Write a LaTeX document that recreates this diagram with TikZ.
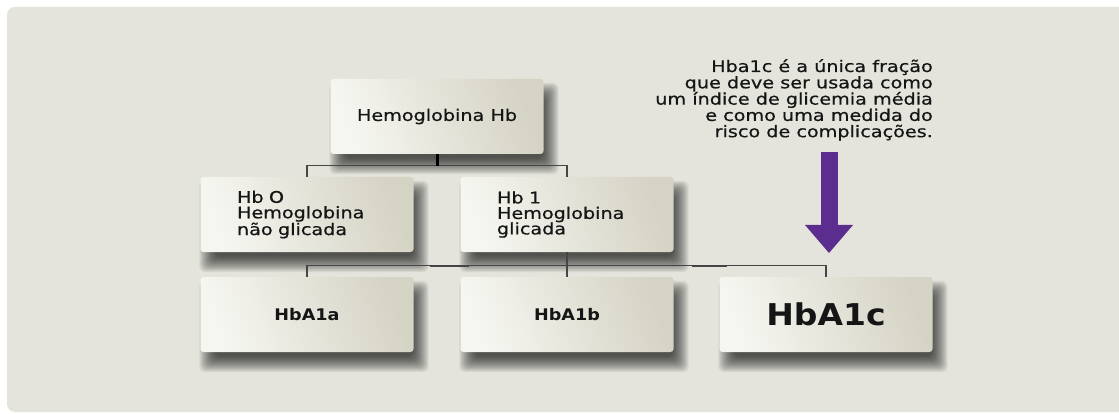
\documentclass[tikz,border=0pt]{standalone}
\usepackage{fontspec}
\setmainfont{DejaVu Sans}
\newfontfamily\boxfont[FakeStretch=1.2,FakeBold=0.6]{DejaVu Sans}
\newfontfamily\labfont[FakeStretch=1.1]{DejaVu Sans}
\usetikzlibrary{arrows.meta,calc}
\definecolor{panel}{HTML}{E4E4DC}
\definecolor{boxL}{HTML}{F6F6F1}
\definecolor{boxR}{HTML}{D5D3C4}
\definecolor{linec}{HTML}{454545}
\definecolor{purp}{HTML}{5B2D8E}
\definecolor{textc}{HTML}{151515}
\pgfdeclarelayer{panellayer}
\pgfdeclarelayer{shadowlayer}
\pgfsetlayers{panellayer,shadowlayer,main}
\newcommand{\myshadow}[1]{%
  \begin{pgfonlayer}{shadowlayer}
  \foreach \k in {-8,...,8} {
    \fill[black, opacity=0.055, rounded corners=6pt]
      ($(#1.north west)+(7-\k,12-\k)$) rectangle ($(#1.south east)+(7+\k,12+\k)$);
  }
  \end{pgfonlayer}}
\begin{document}
\begin{tikzpicture}[x=1pt,y=-1pt,
  box/.style={rounded corners=3pt, minimum width=213pt, minimum height=75pt,
    inner sep=0pt, left color=boxL, right color=boxR, shading angle=110,
    text=textc},
  boxtxt/.style={font={\boxfont\fontsize{16pt}{15.5pt}\selectfont}},
  smalllab/.style={font={\labfont\bfseries\fontsize{16pt}{18pt}\selectfont}},
  biglab/.style={font={\labfont\bfseries\fontsize{30pt}{32pt}\selectfont}},
  note/.style={align=right, inner sep=0pt, text=textc, font={\boxfont\fontsize{16pt}{16.3pt}\selectfont}},
  conn/.style={draw=linec, line width=1.3pt},
  stub/.style={draw=black, line width=3pt},
  seg/.style={draw=linec, line width=2.2pt},
  bigarrow/.style={draw=purp, line width=17pt, -{Triangle[length=28pt, width=48pt, line width=0pt]}}]
\useasboundingbox (0,0) rectangle (1119,414);
\clip (0,0) rectangle (1119,414);
\begin{pgfonlayer}{panellayer}
\fill[white] (0,0) rectangle (1119,414);
\fill[panel, rounded corners=8pt] (7,7) rectangle (1135,412);
\end{pgfonlayer}

\node[box, boxtxt] (hb) at (437,116.5) {Hemoglobina Hb};
\node[box, boxtxt, align=left, text width=140pt] (hb0) at (307,214.5) {Hb O\\Hemoglobina\\não glicada};
\node[box, boxtxt, align=left, text width=140pt] (hb1) at (567,214.5) {Hb 1\\Hemoglobina\\glicada};
\node[box, smalllab] (a1a) at (307,314.5) {\raisebox{-3pt}{HbA1a}};
\node[box, smalllab] (a1b) at (567,314.5) {\raisebox{-3pt}{HbA1b}};
\node[box, biglab] (a1c) at (826,314.5) {\raisebox{-2pt}{HbA1c}};
\myshadow{hb}\myshadow{hb0}\myshadow{hb1}\myshadow{a1a}\myshadow{a1b}\myshadow{a1c}

\draw[conn] (hb0.north) -- ++(0,-11) -| (hb1.north);
\draw[stub] (hb.south) -- ++(0,12);
\draw[conn] (a1a.north) -- ++(0,-11) -| (a1c.north);
\draw[conn] (hb1.south) -- (a1b.north);
\coordinate (s1a) at (430,266); \coordinate (s1b) at (469,266);
\coordinate (s2a) at (692,266); \coordinate (s2b) at (727,266);
\draw[seg] (s1a) -- (s1b);
\draw[seg] (s2a) -- (s2b);

\node[note, anchor=north east] (note) at (933,59) {Hba1c é a única fração\\que deve ser usada como\\um índice de glicemia média\\e como uma medida do\\risco de complicações.};

\coordinate (arrtop) at (829,152);
\coordinate (arrtip) at (829,253);
\draw[bigarrow] (arrtop) -- (arrtip);
\end{tikzpicture}
\end{document}
